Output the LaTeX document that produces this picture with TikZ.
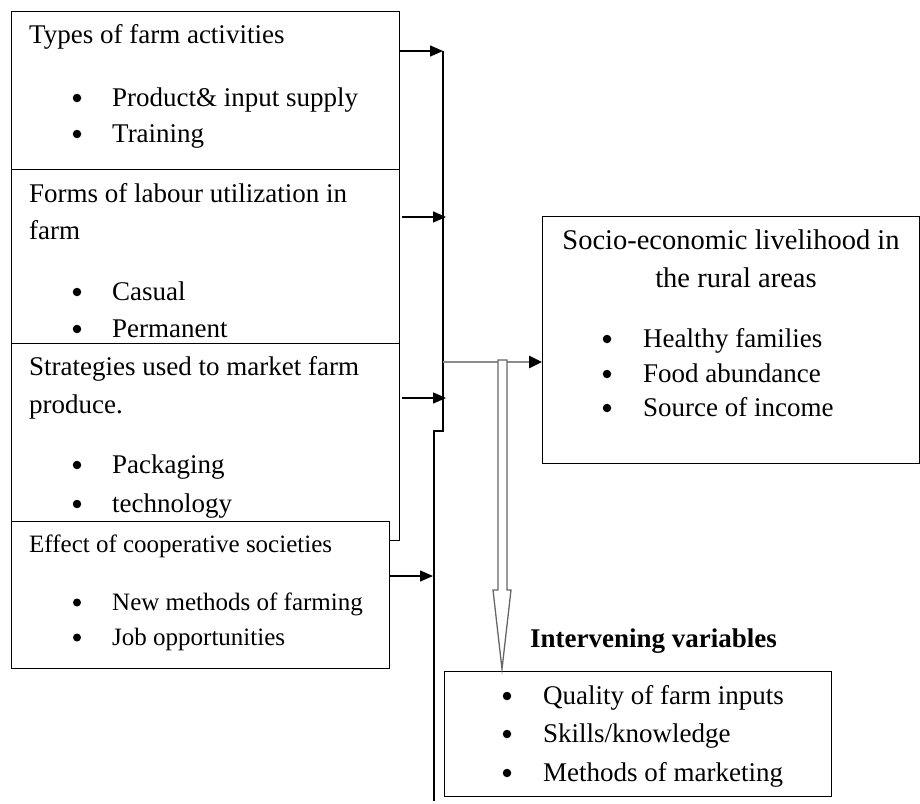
\documentclass[tikz,border=0pt]{standalone}
\usepackage{fontspec}
\setmainfont{Liberation Serif}
\usetikzlibrary{arrows.meta}
\begin{document}
\begin{tikzpicture}[x=1pt,y=-1pt,
  box/.style={draw,line width=1.4pt,fill=white,inner sep=0pt,anchor=north west},
  txt/.style={anchor=base west,inner sep=0pt,font=\fontsize{27}{32}\selectfont},
  stxt/.style={anchor=base west,inner sep=0pt,font=\fontsize{25}{30}\selectfont},
  ctxt/.style={anchor=base,inner sep=0pt,font=\fontsize{28.5}{33}\selectfont},
  bul/.style={circle,fill=black,inner sep=0pt,minimum size=8.5pt,yshift=8pt},
  sbul/.style={circle,fill=black,inner sep=0pt,minimum size=8pt,yshift=7.5pt},
  conn/.style={line width=1.4pt,-{Triangle[length=13pt,width=11pt]}},
  trunk/.style={line width=1.4pt}]
\useasboundingbox (0,0) rectangle (920,803);

% left boxes
\node[box,minimum width=388pt,minimum height=158pt] (box1) at (11,11) {};
\node[box,minimum width=388pt,minimum height=174pt] (box2) at (11,169) {};
\node[box,minimum width=388pt,minimum height=197pt] (box3) at (11,343) {};

\node[txt] (t1) at (29,43) {Types of farm activities};
\node[bul] (b1a) at (77,106) {};
\node[txt] (t1a) at (112,106) {Product\& input supply};
\node[bul] (b1b) at (77,142) {};
\node[txt] (t1b) at (112,142) {Training};

\node[txt] (t2) at (29,202) {Forms of labour utilization in};
\node[txt] (t2x) at (29,239) {farm};
\node[bul] (b2a) at (77,300) {};
\node[txt] (t2a) at (112,300) {Casual};
\node[bul] (b2b) at (77,337) {};
\node[txt] (t2b) at (112,337) {Permanent};

\node[txt] (t3) at (29,375) {Strategies used to market farm};
\node[txt] (t3x) at (29,413) {produce.};
\node[bul] (b3a) at (77,473) {};
\node[txt] (t3a) at (112,473) {Packaging};
\node[bul] (b3b) at (77,512) {};
\node[txt] (t3b) at (112,512) {technology};

\node[box,minimum width=378pt,minimum height=147pt] (box4) at (11,521) {};
\node[stxt] (t4) at (29,552) {Effect of cooperative societies};
\node[sbul] (b4a) at (77,610) {};
\node[stxt] (t4a) at (112,610) {New methods of farming};
\node[sbul] (b4b) at (77,645) {};
\node[stxt] (t4b) at (112,645) {Job opportunities};

% socio-economic box
\node[box,minimum width=377pt,minimum height=247pt] (socio) at (542,216) {};
\node[ctxt] (s1) at (731,249) {Socio-economic livelihood in};
\node[ctxt] (s2) at (736,287) {the rural areas};
\node[bul] (sb1) at (607,347) {};
\node[txt] (st1) at (643,347) {Healthy families};
\node[bul] (sb2) at (607,382) {};
\node[txt] (st2) at (643,382) {Food abundance};
\node[bul] (sb3) at (607,416) {};
\node[txt] (st3) at (643,416) {Source of income};

% intervening box
\node[txt,font=\fontsize{27}{32}\selectfont\bfseries] (iv) at (530,647) {Intervening variables};
\node[box,minimum width=387pt,minimum height=125pt] (interv) at (444,671) {};
\node[bul] (ib1) at (507,704) {};
\node[txt] (it1) at (543,704) {Quality of farm inputs};
\node[bul] (ib2) at (507,742) {};
\node[txt] (it2) at (543,742) {Skills/knowledge};
\node[bul] (ib3) at (507,781) {};
\node[txt] (it3) at (543,781) {Methods of marketing};

% trunk line
\coordinate (j1) at (443,51);
\coordinate (j2) at (443,431);
\coordinate (j3) at (434,431);
\coordinate (j4) at (434,801);
\coordinate (g) at (443,362);
\draw[trunk] (j1) -- (j2) -- (j3) -- (j4);

% arrows into trunk
\coordinate (a2s) at (402,217);
\coordinate (a2e) at (446,217);
\coordinate (a3s) at (402,398);
\coordinate (a3e) at (446,398);
\coordinate (a4e) at (433,576);
\draw[conn] (box1.east |- j1) -- (j1);
\draw[conn] (a2s) -- (a2e);
\draw[conn] (a3s) -- (a3e);
\draw[conn] (box4.east |- a4e) -- (a4e);

% gray arrow to socio box
\draw[line width=2.6pt,draw=black!45,-{Triangle[length=13pt,width=12pt,color=black]}] (g) -- (socio.west |- g);

% hollow arrow to intervening
\draw[line width=1.3pt,draw=black!60,fill=white] (498,360) -- (507,360) -- (507,590) -- (511,590) -- (502,669) -- (493,590) -- (498,590) -- cycle;
\end{tikzpicture}
\end{document}
